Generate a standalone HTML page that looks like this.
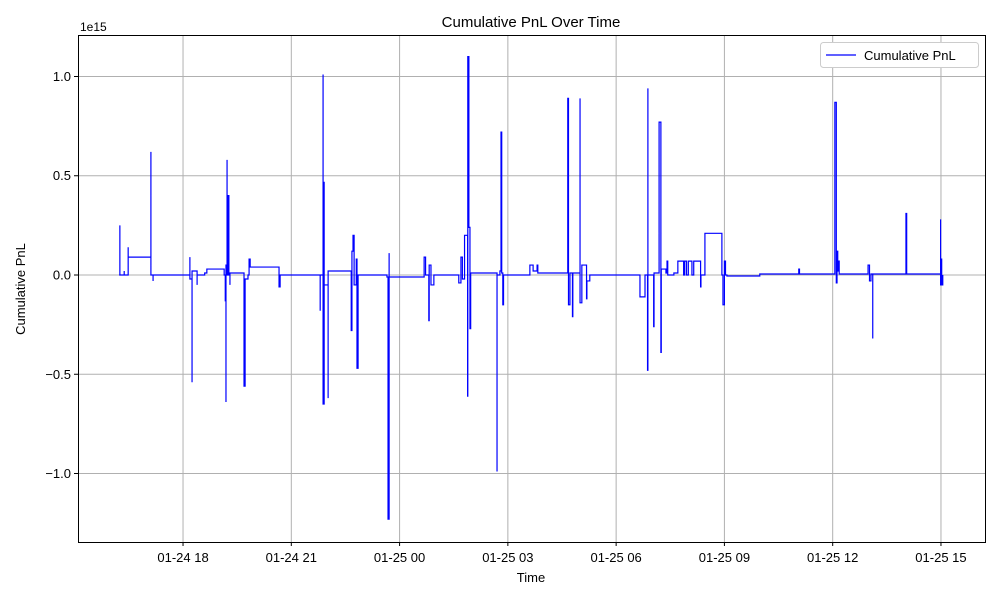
<!DOCTYPE html>
<html><head><meta charset="utf-8"><style>
body{margin:0;background:#fff;font-family:"Liberation Sans",sans-serif}
svg text{font-family:"Liberation Sans",sans-serif;fill:#000}
</style></head><body>
<svg id="chart" width="1000" height="600" xmlns="http://www.w3.org/2000/svg">
<rect width="1000" height="600" fill="#fff"/>
<text x="531" y="27" font-size="15" text-anchor="middle">Cumulative PnL Over Time</text>
<text x="80" y="31" font-size="12">1e15</text>
<text x="531" y="582" font-size="13" text-anchor="middle">Time</text>
<text x="25" y="289" font-size="13" text-anchor="middle" transform="rotate(-90 25 289)">Cumulative PnL</text>
<g id="grid"></g>
<g id="ticks"></g>
<path id="series" fill="none" stroke="#0000ff" stroke-width="1.2"/>
<rect x="78.5" y="35.5" width="907" height="507" fill="none" stroke="#000" stroke-width="1"/>
<g>
<rect x="820.5" y="42.5" width="158" height="25" rx="3" fill="#fff" stroke="#ccc"/>
<line x1="826" y1="55" x2="856" y2="55" stroke="#0000ff" stroke-width="1.2"/>
<text x="864" y="60" font-size="13">Cumulative PnL</text>
</g>
</svg>
<script>
const times=[16.23,16.25,16.25,16.37,16.37,16.48,16.48,16.48,17.11,17.11,17.11,17.17,17.17,18.14,18.19,18.19,18.25,18.25,18.39,18.39,18.60,18.66,19.14,19.14,19.17,19.19,19.19,19.22,19.22,19.25,19.27,19.27,19.30,19.30,19.69,19.69,19.72,19.80,19.83,19.86,20.66,20.66,20.69,20.69,21.74,21.80,21.80,21.88,21.88,21.91,21.91,22.02,22.02,22.63,22.66,22.68,22.71,22.74,22.80,22.82,22.85,23.65,23.65,23.68,23.71,23.71,24.65,24.68,24.72,24.81,24.82,24.87,24.95,25.62,25.64,25.70,25.74,25.80,25.885,25.89,25.92,25.95,25.97,26.67,26.70,26.70,26.78,26.81,26.83,26.86,26.88,27.61,27.61,27.70,27.81,27.83,28.66,28.66,28.68,28.72,28.79,28.80,29.00,29.00,29.05,29.18,29.19,29.27,30.66,30.66,30.80,30.87,30.88,30.88,31.04,31.05,31.19,31.24,31.25,31.38,31.41,31.43,31.60,31.71,31.85,31.87,31.90,31.95,32.00,32.10,32.15,32.34,32.35,32.46,32.93,32.93,32.96,33.00,33.03,33.07,33.98,33.98,35.03,35.06,35.08,36.03,36.06,36.10,36.12,36.14,36.17,36.18,36.98,36.98,37.02,37.06,37.11,37.11,38.02,38.03,38.05,38.98,38.99,38.99,39.01,39.02,39.05];
const values=[0,0.25,0,0.02,0,0,0.14,0.09,0.09,0.62,0,-0.03,0,0,0.09,-0.02,-0.54,0.02,-0.05,0,0.01,0.03,0.03,0,-0.13,-0.64,0.05,0.58,0,0.4,0.2,0,-0.05,0.01,0.01,-0.56,-0.02,0,0.08,0.04,0.04,-0.06,-0.06,0,0,-0.18,0,1.01,-0.65,0.47,-0.05,-0.62,0.02,0.02,-0.28,0.12,0.2,-0.05,0.08,-0.47,0,0,-0.01,-1.23,0.11,-0.01,-0.01,0.09,0,-0.23,0.05,-0.05,0,0,-0.04,0.09,-0.02,0.2,-0.61,1.1,0.24,-0.27,0.01,0.01,-0.99,0,0.02,0.72,0.01,-0.15,0,0,0.05,0.02,0.05,0.01,0.01,0.89,-0.15,0.01,-0.21,0.01,0.89,-0.14,0.05,-0.12,-0.03,0,0,-0.11,0,-0.48,0.94,0,-0.26,0.01,0.77,-0.39,0.03,0.01,0.07,0,0.01,0.07,0.07,0,0.07,0,0.07,0,0.07,-0.06,0,0.21,0.21,0,-0.15,0.07,0,-0.005,-0.005,0.005,0.005,0.03,0.005,0.005,0.87,-0.04,0.12,0.02,0.07,0.005,0.005,0.05,-0.03,0.005,-0.32,0.005,0.005,0.31,0.005,0.005,0.28,-0.05,0.08,-0.05,0];
const xTickHours=[18,21,24,27,30,33,36,39];
const xTickLabels=["01-24 18","01-24 21","01-25 00","01-25 03","01-25 06","01-25 09","01-25 12","01-25 15"];
const yTickValues=[1.0,0.5,0,-0.5,-1.0];
const yTickLabels=["1.0","0.5","0.0","\u22120.5","\u22121.0"];

const X0=78,X1=985,Y0=35,Y1=542;
const hMin=15.09,hMax=40.22,vMin=-1.345,vMax=1.209;
const xs=h=>X0+(h-hMin)/(hMax-hMin)*(X1-X0);
const ys=v=>Y1-(v-vMin)/(vMax-vMin)*(Y1-Y0);
const NS="http://www.w3.org/2000/svg";
const grid=document.getElementById('grid'),ticks=document.getElementById('ticks');
function mk(tag,attrs,parent){const e=document.createElementNS(NS,tag);for(const k in attrs)e.setAttribute(k,attrs[k]);parent.appendChild(e);return e;}
xTickHours.forEach((h,i)=>{
  const x=xs(h);
  const g=mk('line',{x1:x,x2:x,y1:Y0,y2:Y1,stroke:'#b0b0b0','stroke-width':1},grid);
  
  
  const t=mk('line',{x1:x,x2:x,y1:Y1,y2:Y1+4,stroke:'#000'},ticks);
  
  
  const l=mk('text',{x:x,y:Y1+20,'font-size':13,'text-anchor':'middle'},ticks);
  l.textContent=xTickLabels[i];
  
  
});
yTickValues.forEach((v,i)=>{
  const y=ys(v);
  const g=mk('line',{x1:X0,x2:X1,y1:y,y2:y,stroke:'#b0b0b0','stroke-width':1},grid);
  
  
  const t=mk('line',{x1:X0-4,x2:X0,y1:y,y2:y,stroke:'#000'},ticks);
  
  
  const l=mk('text',{x:X0-7,y:y+4.5,'font-size':13,'text-anchor':'end'},ticks);
  l.textContent=yTickLabels[i];
  
  
});
let d='';
times.forEach((t,i)=>{
  const x=xs(t).toFixed(2), y=ys(values[i]).toFixed(2);
  if(i===0){d+='M'+x+' '+y;}
  else{d+='L'+x+' '+ys(values[i-1]).toFixed(2)+'L'+x+' '+y;}
});
document.getElementById('series').setAttribute('d',d);
</script>
</body></html>
